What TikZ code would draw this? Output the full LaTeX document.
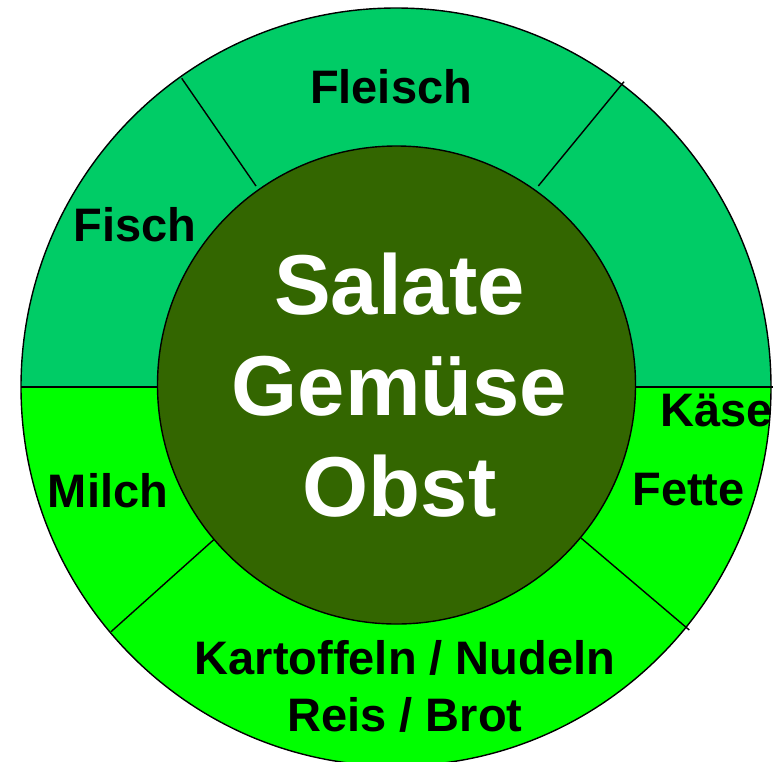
\documentclass[tikz,border=0pt]{standalone}
\usepackage{fontspec}
\setmainfont{Liberation Sans}
\definecolor{ringtop}{RGB}{0,204,102}
\definecolor{ringbot}{RGB}{0,255,0}
\definecolor{corecol}{RGB}{51,102,0}

\begin{document}
\begin{tikzpicture}[
    x=1pt, y=-1pt,
    every node/.style={inner sep=0pt, font=\fontsize{47}{57}\selectfont\bfseries},
    ringtext/.style={anchor=base, align=center},
    divider/.style={draw=black, line width=1.4pt},
    core/.style={circle, draw=black, line width=1.4pt, fill=corecol, minimum size=478pt, text=white, align=center, font=\fontsize{85}{101}\selectfont\bfseries}
]
\useasboundingbox (0,0) rectangle (773,761);
\clip (0,0) rectangle (773,761);
\coordinate (mid) at (396,387);

\fill[ringbot] (mid) ellipse [x radius=375pt, y radius=379pt];
\begin{scope}
  \clip (0,0) rectangle (773,387);
  \fill[ringtop] (mid) ellipse [x radius=375pt, y radius=379pt];
\end{scope}

\draw[divider] (21,387) -- (200,387);
\draw[divider] (600,387) -- (773,387);
\draw[divider] (181.7,78.3) -- (256,186);
\draw[divider] (624,81.7) -- (538.3,186);
\draw[divider] (111,631.7) -- (214,539.5);
\draw[divider] (581,538) -- (689.3,630);
\draw[line width=1.4pt] (mid) ellipse [x radius=375pt, y radius=379pt];

\node[core] (food) at (396.5,385) {\hspace*{6pt}Salate\\\hspace*{6pt}Gemüse\\\hspace*{6pt}Obst};

\node[ringtext] (fleisch) at (391,103) {Fleisch};
\node[ringtext] (fisch) at (135,241) {Fisch};
\node[ringtext] (milch) at (108,507.5) {Milch};
\node[ringtext, anchor=base west] (kaese) at (660.5,426) {Käse};
\node[ringtext] (fette) at (688.6,505) {Fette};
\node[ringtext] (beilage) at (405,731) {Kartoffeln / Nudeln\\Reis / Brot};
\end{tikzpicture}
\end{document}
